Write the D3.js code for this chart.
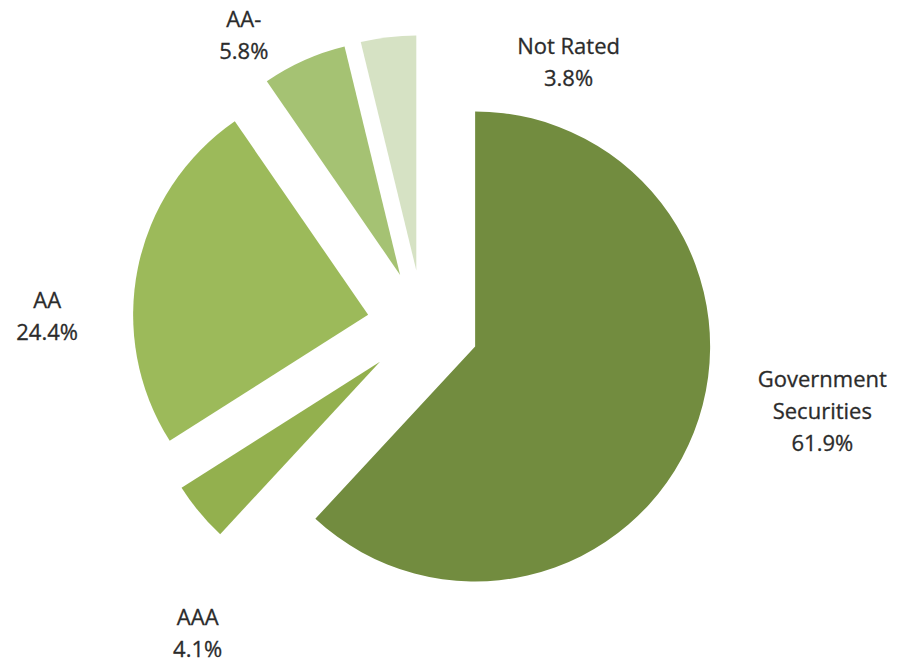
<!DOCTYPE html>
<html>
<head>
<meta charset="utf-8">
<script src="https://cdn.jsdelivr.net/npm/d3@7"></script>
<style>
  body { margin: 0; background: #fff; }
  .lbl { font-family: "Open Sans", sans-serif; font-size: 22px; fill: #2b2b2b; stroke: #2b2b2b; stroke-width: 0.3px; }
</style>
</head>
<body>
<div class="chart"></div>
<script>
var names = ["Government Securities", "AAA", "AA", "AA-", "Not Rated"];
var values = [61.9, 4.1, 24.4, 5.8, 3.8];
var labelLines = [["Government", "Securities"], ["AAA"], ["AA"], ["AA-"], ["Not Rated"]];
var colors = ["#728c3f", "#93b04e", "#9cba5a", "#a5c273", "#d6e2c4"];

var svgWidth = 897;
var svgHeight = 664;
var radius = 235;
var explode = 56;
var cx = 423, cy = 326;
var lineHeight = 32;

// where each label sits, measured from its slice's tip (angle clockwise from 12 o'clock)
var labelPlace = {
  "Government Securities": {angle: 100.4, dist: 353},
  "AAA": {angle: 214, dist: 326},
  "AA": {angle: 270, dist: 321},
  "AA-": {angle: 327, dist: 287},
  "Not Rated": {angle: 36, dist: 259}
};

var svg = d3.select(".chart")
            .append("svg")
            .attr("width", svgWidth)
            .attr("height", svgHeight);

var pie = d3.pie().sort(null).value(function(d) { return d; });
var arc = d3.arc().innerRadius(0).outerRadius(radius);
var slices = pie(values);

var g = svg.append("g").attr("transform", "translate(" + cx + "," + cy + ")");

function tip(d) {
  var mid = (d.startAngle + d.endAngle) / 2;
  return [explode * Math.sin(mid), -explode * Math.cos(mid)];
}

g.selectAll("path")
    .data(slices)
    .enter()
    .append("path")
    .attr("d", arc)
    .attr("fill", function(d, i) { return colors[i]; })
    .attr("transform", function(d) {
      var t = tip(d);
      return "translate(" + t[0] + "," + t[1] + ")";
    });

g.selectAll("text")
    .data(slices)
    .enter()
    .append("text")
    .attr("class", "lbl")
    .attr("text-anchor", "middle")
    .each(function(d, i) {
      var t = tip(d);
      var p = labelPlace[names[i]];
      var a = p.angle * Math.PI / 180;
      var x = t[0] + p.dist * Math.sin(a);
      var y = t[1] - p.dist * Math.cos(a);
      var lines = labelLines[i].concat([d3.format(".1f")(values[i]) + "%"]);
      var top = y - (lines.length - 1) / 2 * lineHeight;
      var el = d3.select(this);
      lines.forEach(function(s, k) {
        el.append("tspan")
          .attr("x", x)
          .attr("y", top + k * lineHeight)
          .attr("dominant-baseline", "central")
          .text(s);
      });
    });
</script>
</body>
</html>
